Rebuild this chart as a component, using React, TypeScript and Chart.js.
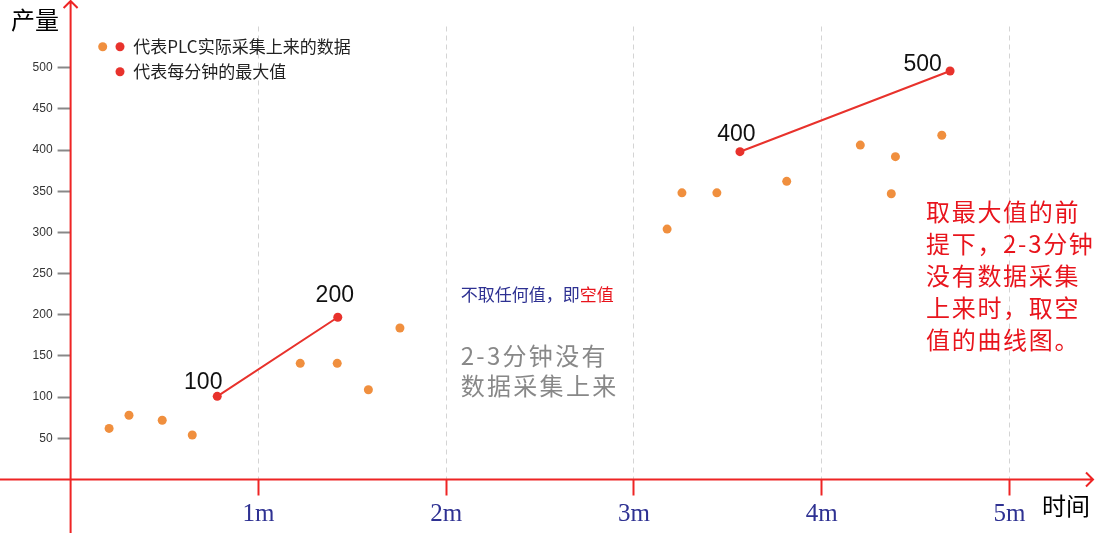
import { useEffect, useRef } from 'react';
import { Chart, registerables } from 'chart.js';

Chart.register(...registerables);

// ---- data ----
const minuteTicks = [1, 2, 3, 4, 5];
const xTickLabels = ['1m', '2m', '3m', '4m', '5m'];
const yTicks = [50, 100, 150, 200, 250, 300, 350, 400, 450, 500];

const plcMinutes = [0.205, 0.311, 0.488, 0.648, 1.223, 1.42, 1.586, 1.754, 3.177, 3.256, 3.442, 3.814, 4.206, 4.393, 4.371, 4.64];
const plcValues = [62, 78, 72, 54, 141, 141, 109, 184, 304, 348, 348, 362, 406, 392, 347, 418];

const maxMinutes = [0.781, 1.423, 2.5, 3.565, 4.684];
const maxValues: (number | null)[] = [101, 197, null, 398, 496];
const maxLabels = ['100', '200', '', '400', '500'];

const legendTexts = ['代表PLC实际采集上来的数据', '代表每分钟的最大值'];
const yTitle = '产量';
const xTitle = '时间';
const noteBlueA = '不取任何值，即';
const noteBlueB = '空值';
const noteGray = ['2-3分钟没有', '数据采集上来'];
const noteRed = ['取最大值的前', '提下，2-3分钟', '没有数据采集', '上来时，取空', '值的曲线图。'];

// ---- styles ----
const ORANGE = '#F08F3E';
const RED = '#E8322C';
const AXIS_RED = '#EE2424';
const NAVY = '#2E3192';
const CJK = '"Noto Sans CJK SC", "Noto Sans", sans-serif';
const SANS = '"Liberation Sans", Arial, sans-serif';
const SERIF = '"Liberation Serif", "Times New Roman", serif';
const labelOffsets = [[-14, -7], [-3, -15], [0, 0], [-3.5, -11], [-27.5, 0]];

const decor = {
  id: 'decor',
  beforeDatasetsDraw(chart: any) {
    const ctx = chart.ctx as CanvasRenderingContext2D;
    const xs = chart.scales.x, ys = chart.scales.y;
    const x0 = xs.getPixelForValue(0);
    const y0 = ys.getPixelForValue(0);
    ctx.save();
    ctx.strokeStyle = AXIS_RED;
    ctx.lineWidth = 2;
    ctx.beginPath();
    ctx.moveTo(0, y0); ctx.lineTo(1093, y0);
    ctx.moveTo(1086, y0 - 7); ctx.lineTo(1093, y0); ctx.lineTo(1086, y0 + 7);
    ctx.moveTo(x0, 533); ctx.lineTo(x0, 1);
    ctx.moveTo(x0 - 7, 8); ctx.lineTo(x0, 1); ctx.lineTo(x0 + 7, 8);
    ctx.stroke();
    ctx.restore();
  },
  afterDraw(chart: any) {
    const ctx = chart.ctx as CanvasRenderingContext2D;
    ctx.save();
    // point labels
    const meta = chart.getDatasetMeta(1);
    ctx.font = `23px ${SANS}`;
    ctx.fillStyle = '#111';
    ctx.textAlign = 'center';
    ctx.textBaseline = 'alphabetic';
    meta.data.forEach((pt: any, i: number) => {
      if (maxValues[i] == null || !maxLabels[i]) return;
      const [dx, dy] = labelOffsets[i];
      ctx.fillText(maxLabels[i], pt.x + dx, pt.y + dy);
    });

    ctx.textAlign = 'left';
    ctx.textBaseline = 'middle';
    // axis titles
    ctx.fillStyle = '#000';
    ctx.font = `24px ${CJK}`;
    ctx.fillText(yTitle, 11, 20);
    ctx.fillText(xTitle, 1042, 505.5);

    // legend
    ctx.fillStyle = ORANGE;
    ctx.beginPath(); ctx.arc(102.7, 46.7, 4.5, 0, Math.PI * 2); ctx.fill();
    ctx.fillStyle = RED;
    ctx.beginPath(); ctx.arc(120, 46.7, 4.5, 0, Math.PI * 2); ctx.fill();
    ctx.beginPath(); ctx.arc(120, 71.7, 4.5, 0, Math.PI * 2); ctx.fill();
    ctx.fillStyle = '#222';
    ctx.font = `17px ${CJK}`;
    ctx.fillText(legendTexts[0], 133.3, 46.7);
    ctx.fillText(legendTexts[1], 133.3, 71.7);

    // blue/red note
    ctx.font = `17px ${CJK}`;
    ctx.fillStyle = NAVY;
    ctx.fillText(noteBlueA, 460.7, 294.5);
    const w = ctx.measureText(noteBlueA).width;
    ctx.fillStyle = '#E8141C';
    ctx.fillText(noteBlueB, 460.7 + w, 294.5);

    // gray note
    (ctx as any).letterSpacing = '2.3px';
    ctx.font = `24px ${CJK}`;
    ctx.fillStyle = '#888';
    noteGray.forEach((t, i) => ctx.fillText(t, 460.7, 355.5 + i * 30.5));

    // red note
    (ctx as any).letterSpacing = '1.7px';
    ctx.fillStyle = '#E8141C';
    noteRed.forEach((t, i) => ctx.fillText(t, 926, 212 + i * 32));
    (ctx as any).letterSpacing = '0px';
    ctx.restore();
  },
};

export default function App() {
  const ref = useRef<HTMLCanvasElement | null>(null);
  useEffect(() => {
    if (!ref.current) return;
    const chart = new Chart(ref.current, {
      type: 'scatter',
      data: {
        datasets: [
          {
            label: 'PLC',
            data: plcMinutes.map((m, i) => ({ x: m, y: plcValues[i] })),
            backgroundColor: ORANGE,
            borderWidth: 0,
            pointRadius: 4.5,
            pointHoverRadius: 4.5,
          },
          {
            label: 'max',
            data: maxMinutes.map((m, i) => ({ x: m, y: maxValues[i] })) as any,
            showLine: true,
            spanGaps: false,
            borderColor: RED,
            borderWidth: 2,
            backgroundColor: RED,
            pointBackgroundColor: RED,
            pointBorderWidth: 0,
            pointRadius: 4.5,
            pointHoverRadius: 4.5,
          },
        ],
      },
      options: {
        animation: false,
        responsive: false,
        events: [],
        layout: { padding: { top: 26.5, right: 16.5, left: 0, bottom: 0 } },
        plugins: { legend: { display: false }, tooltip: { enabled: false } },
        scales: {
          x: {
            type: 'linear',
            min: 0,
            max: 5.4,
            afterBuildTicks: (s: any) => { s.ticks = minuteTicks.map((v) => ({ value: v })); },
            afterFit: (s: any) => { s.height = 53.5; },
            grid: {
              color: '#d4d4d4',
              lineWidth: 1,
              tickColor: AXIS_RED,
              tickWidth: 2,
              tickLength: 16,
              tickBorderDash: [],
            },
            border: { display: false, dash: [5, 4] },
            ticks: {
              callback: (_v: any, i: number) => xTickLabels[i],
              font: { family: SERIF, size: 25 },
              color: NAVY,
              padding: 4,
              maxRotation: 0,
              autoSkip: false,
            },
          },
          y: {
            type: 'linear',
            min: 0,
            max: 550,
            afterBuildTicks: (s: any) => { s.ticks = yTicks.map((v) => ({ value: v })); },
            afterFit: (s: any) => { s.width = 70.6; },
            grid: {
              drawOnChartArea: false,
              tickColor: '#888',
              tickWidth: 2,
              tickLength: 13,
            },
            border: { display: false },
            ticks: {
              font: { family: SANS, size: 12 },
              color: '#333',
              padding: 5,
            },
          },
        },
      },
      plugins: [decor],
    });
    return () => chart.destroy();
  }, []);
  return (
    <div style={{ position: 'fixed', left: 0, top: 0, width: 1101, height: 533, background: '#fff' }}>
      <canvas ref={ref} width={1101} height={533} style={{ display: 'block', width: 1101, height: 533 }} />
    </div>
  );
}
